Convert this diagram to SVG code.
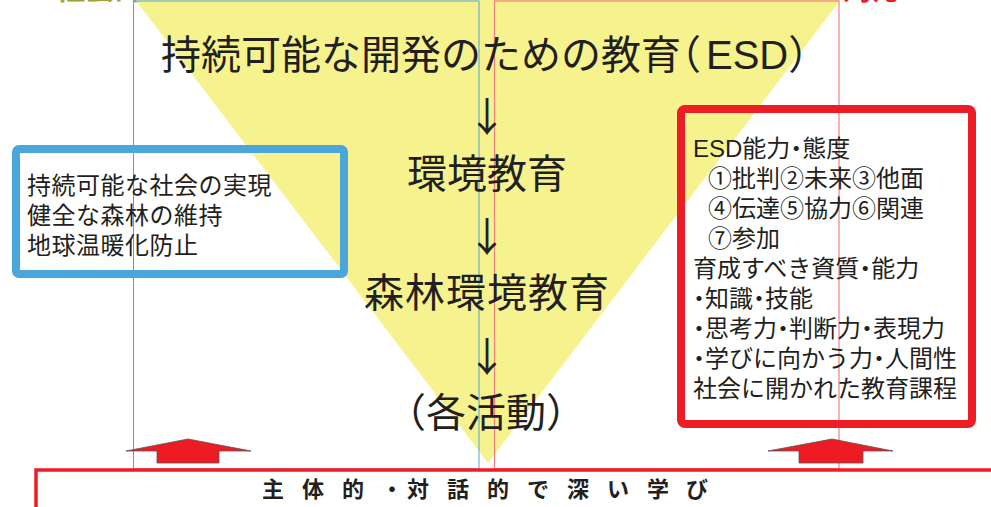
<svg xmlns="http://www.w3.org/2000/svg" width="991" height="507" viewBox="0 0 991 507">
<style>
text{font-family:"Noto Sans CJK JP","Noto Sans CJK SC",sans-serif;fill:#231f20}
.big{font-size:40px}
.mid{font-size:24px}
.h{font-feature-settings:"halt" 1}
.lat{font-family:"Liberation Sans",Arial,sans-serif}
.arr{font-size:40px;text-anchor:middle}
.thinb{fill:none;stroke:#4ea4dc;stroke-width:1}
.thinr{fill:none;stroke:#f08080;stroke-width:1.2}
.up{fill:#ed1c24;stroke:#555;stroke-width:0.8}
</style>
<rect width="991" height="507" fill="#ffffff"/>
<g id="headers">
<text x="55" y="-1" style="font-size:30px;font-weight:700;fill:#a3a23a">社会的課題への対応</text>
<text x="633" y="-1" style="font-size:30px;font-weight:700;fill:#ee1c25">教育的課題への対応</text>
</g>
<g id="funnel">
<polygon points="134,-2 842,-2 488,463" fill="#f6f28e"/>
</g>
<g id="frames">
<rect class="thinb" x="133.5" y="1" width="345.5" height="468"/>
<rect class="thinr" x="494.5" y="1" width="344.5" height="468"/>
</g>
<g id="title">
<text class="big h" x="161" y="69">持続可能な開発のための教育（<tspan class="lat" dx="5">ESD</tspan>）</text>
</g>
<g id="connectors">
<text class="arr" x="487" y="131">↓</text>
<text class="arr" x="487" y="251">↓</text>
<text class="arr" x="487" y="371">↓</text>
</g>
<g id="env">
<text class="big" x="487" y="188" text-anchor="middle">環境教育</text>
</g>
<g id="forest">
<text class="big" x="487" y="307" text-anchor="middle" letter-spacing="1">森林環境教育</text>
</g>
<g id="activities">
<text class="big" x="486" y="427" text-anchor="middle">（各活動）</text>
</g>
<g id="goals">
<rect x="16" y="149" width="328" height="125" rx="3" fill="none" stroke="#4ba6dc" stroke-width="8"/>
<text class="mid" x="27" y="194" letter-spacing="0.5">持続可能な社会の実現</text>
<text class="mid" x="27" y="224" letter-spacing="0.5">健全な森林の維持</text>
<text class="mid" x="27" y="254" letter-spacing="0.5">地球温暖化防止</text>
</g>
<g id="competencies">
<rect x="681" y="109" width="291" height="315" rx="4" fill="none" stroke="#ee1c25" stroke-width="8"/>
<text class="mid h" x="693" y="157"><tspan class="lat">ESD</tspan>能力・態度</text>
<text class="mid" x="708" y="187">①批判②未来③他面</text>
<text class="mid" x="708" y="217">④伝達⑤協力⑥関連</text>
<text class="mid" x="708" y="247">⑦参加</text>
<text class="mid h" x="693" y="277">育成すべき資質・能力</text>
<text class="mid h" x="693" y="307">・知識・技能</text>
<text class="mid h" x="693" y="337">・思考力・判断力・表現力</text>
<text class="mid h" x="693" y="367">・学びに向かう力・人間性</text>
<text class="mid" x="693" y="397">社会に開かれた教育課程</text>
</g>
<g id="arrows-up">
<polygon class="up" points="126,451 188,439 251,451 219,451 219,463 157,463 157,451"/>
<polygon class="up" points="768,451 832,439 893,451 863,451 863,463 799,463 799,451"/>
</g>
<g id="deep-learning">
<rect x="36" y="470" width="960" height="60" fill="#ffffff" stroke="#ee1c25" stroke-width="3.5"/>
<text x="262 302 342 381 407 447 487 527 567 607 647 686" y="497" style="font-size:22px;font-weight:700">主体的・対話的で深い学び</text>
</g>
</svg>
